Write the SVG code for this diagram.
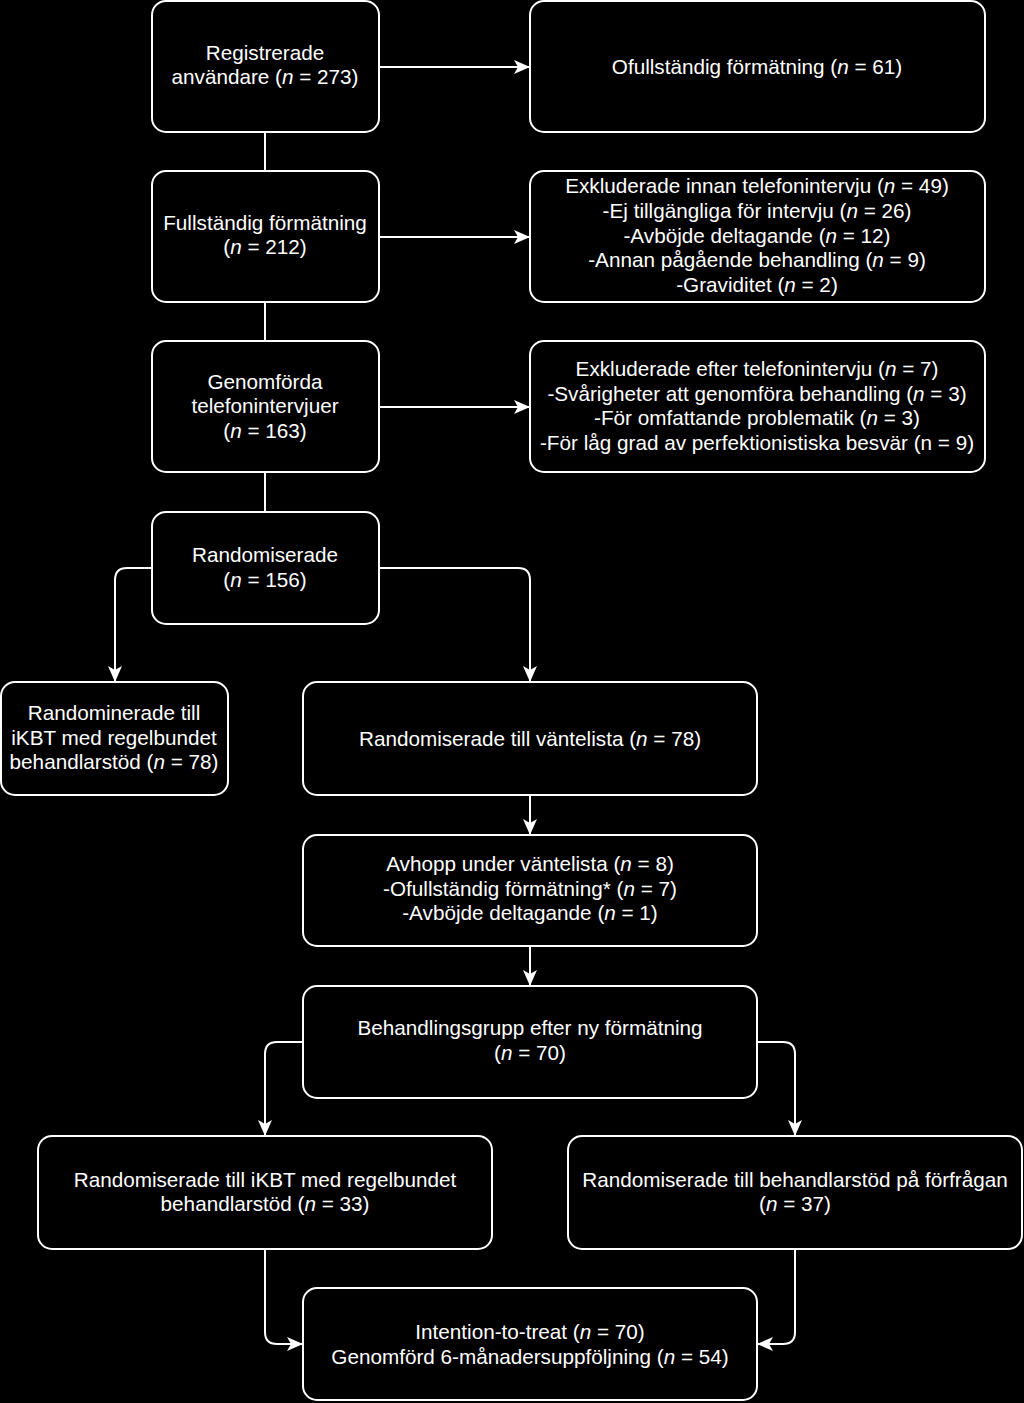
<svg xmlns="http://www.w3.org/2000/svg" width="1024" height="1403" viewBox="0 0 1024 1403">
<defs>
<style>
.box{fill:#000;stroke:#fff;stroke-width:2}
.t{fill:#fff;font-family:"Liberation Sans",Arial,sans-serif;font-size:20.7px;text-anchor:middle}
.c{fill:none;stroke:#fff;stroke-width:2}
</style>
<marker id="ah" viewBox="0 0 16 16" refX="15" refY="8" markerWidth="16" markerHeight="16" markerUnits="userSpaceOnUse" orient="auto">
<path d="M0,1 L16,8 L0,15 L4,8 Z" fill="#fff"/>
</marker>
</defs>
<rect width="1024" height="1403" fill="#000"/>
<g id="connectors">
<path class="c" d="M379,67 H529" marker-end="url(#ah)"/>
<path class="c" d="M379,237 H529" marker-end="url(#ah)"/>
<path class="c" d="M379,407 H529" marker-end="url(#ah)"/>
<path class="c" d="M265,132 V171"/>
<path class="c" d="M265,302 V341"/>
<path class="c" d="M265,472 V512"/>
<path class="c" d="M152,568 H127 Q115,568 115,580 V681" marker-end="url(#ah)"/>
<path class="c" d="M379,568 H518 Q530,568 530,580 V681" marker-end="url(#ah)"/>
<path class="c" d="M530,795 V834" marker-end="url(#ah)"/>
<path class="c" d="M530,946 V985" marker-end="url(#ah)"/>
<path class="c" d="M303,1042 H277 Q265,1042 265,1054 V1135" marker-end="url(#ah)"/>
<path class="c" d="M757,1042 H783 Q795,1042 795,1054 V1135" marker-end="url(#ah)"/>
<path class="c" d="M265,1249 V1332 Q265,1344 277,1344 H302" marker-end="url(#ah)"/>
<path class="c" d="M795,1249 V1332 Q795,1344 783,1344 H758" marker-end="url(#ah)"/>
</g>
<g id="n1"><rect class="box" x="152" y="1" width="227" height="131" rx="14"/>
<text class="t" x="265" y="59.5">Registrerade</text>
<text class="t" x="265" y="83.5">användare (<tspan font-style="italic">n</tspan> = 273)</text></g>
<g id="n2"><rect class="box" x="530" y="1" width="455" height="131" rx="14"/>
<text class="t" x="757" y="73.5">Ofullständig förmätning (<tspan font-style="italic">n</tspan> = 61)</text></g>
<g id="n3"><rect class="box" x="152" y="171" width="227" height="131" rx="14"/>
<text class="t" x="265" y="229.5">Fullständig förmätning</text>
<text class="t" x="265" y="253.5">(<tspan font-style="italic">n</tspan> = 212)</text></g>
<g id="n4"><rect class="box" x="530" y="171" width="455" height="131" rx="14"/>
<text class="t" x="757" y="192.5">Exkluderade innan telefonintervju (<tspan font-style="italic">n</tspan> = 49)</text>
<text class="t" x="757" y="217.5">-Ej tillgängliga för intervju (<tspan font-style="italic">n</tspan> = 26)</text>
<text class="t" x="757" y="242.5">-Avböjde deltagande (<tspan font-style="italic">n</tspan> = 12)</text>
<text class="t" x="757" y="266.5">-Annan pågående behandling (<tspan font-style="italic">n</tspan> = 9)</text>
<text class="t" x="757" y="291.5">-Graviditet (<tspan font-style="italic">n</tspan> = 2)</text></g>
<g id="n5"><rect class="box" x="152" y="341" width="227" height="131" rx="14"/>
<text class="t" x="265" y="388.5">Genomförda</text>
<text class="t" x="265" y="412.5">telefonintervjuer</text>
<text class="t" x="265" y="437.5">(<tspan font-style="italic">n</tspan> = 163)</text></g>
<g id="n6"><rect class="box" x="530" y="341" width="455" height="131" rx="14"/>
<text class="t" x="757" y="375.5">Exkluderade efter telefonintervju (<tspan font-style="italic">n</tspan> = 7)</text>
<text class="t" x="757" y="400.5">-Svårigheter att genomföra behandling (<tspan font-style="italic">n</tspan> = 3)</text>
<text class="t" x="757" y="424.5">-För omfattande problematik (<tspan font-style="italic">n</tspan> = 3)</text>
<text class="t" x="757" y="449.5">-För låg grad av perfektionistiska besvär (n = 9)</text></g>
<g id="n7"><rect class="box" x="152" y="512" width="227" height="112" rx="14"/>
<text class="t" x="265" y="561.5">Randomiserade</text>
<text class="t" x="265" y="586.5">(<tspan font-style="italic">n</tspan> = 156)</text></g>
<g id="n8"><rect class="box" x="1" y="682" width="227" height="113" rx="14"/>
<text class="t" x="114" y="719.5">Randominerade till</text>
<text class="t" x="114" y="744.5">iKBT med regelbundet</text>
<text class="t" x="114" y="768.5">behandlarstöd (<tspan font-style="italic">n</tspan> = 78)</text></g>
<g id="n9"><rect class="box" x="303" y="682" width="454" height="113" rx="14"/>
<text class="t" x="530" y="745.5">Randomiserade till väntelista (<tspan font-style="italic">n</tspan> = 78)</text></g>
<g id="n10"><rect class="box" x="303" y="835" width="454" height="111" rx="14"/>
<text class="t" x="530" y="870.5">Avhopp under väntelista (<tspan font-style="italic">n</tspan> = 8)</text>
<text class="t" x="530" y="895.5">-Ofullständig förmätning* (<tspan font-style="italic">n</tspan> = 7)</text>
<text class="t" x="530" y="919.5">-Avböjde deltagande (<tspan font-style="italic">n</tspan> = 1)</text></g>
<g id="n11"><rect class="box" x="303" y="986" width="454" height="112" rx="14"/>
<text class="t" x="530" y="1034.5">Behandlingsgrupp efter ny förmätning</text>
<text class="t" x="530" y="1059.5">(<tspan font-style="italic">n</tspan> = 70)</text></g>
<g id="n12"><rect class="box" x="38" y="1136" width="454" height="113" rx="14"/>
<text class="t" x="265" y="1186.5">Randomiserade till iKBT med regelbundet</text>
<text class="t" x="265" y="1210.5">behandlarstöd (<tspan font-style="italic">n</tspan> = 33)</text></g>
<g id="n13"><rect class="box" x="568" y="1136" width="454" height="113" rx="14"/>
<text class="t" x="795" y="1186.5">Randomiserade till behandlarstöd på förfrågan</text>
<text class="t" x="795" y="1210.5">(<tspan font-style="italic">n</tspan> = 37)</text></g>
<g id="n14"><rect class="box" x="303" y="1288" width="454" height="112" rx="14"/>
<text class="t" x="530" y="1338.5">Intention-to-treat (<tspan font-style="italic">n</tspan> = 70)</text>
<text class="t" x="530" y="1363.5">Genomförd 6-månadersuppföljning (<tspan font-style="italic">n</tspan> = 54)</text></g>
</svg>
